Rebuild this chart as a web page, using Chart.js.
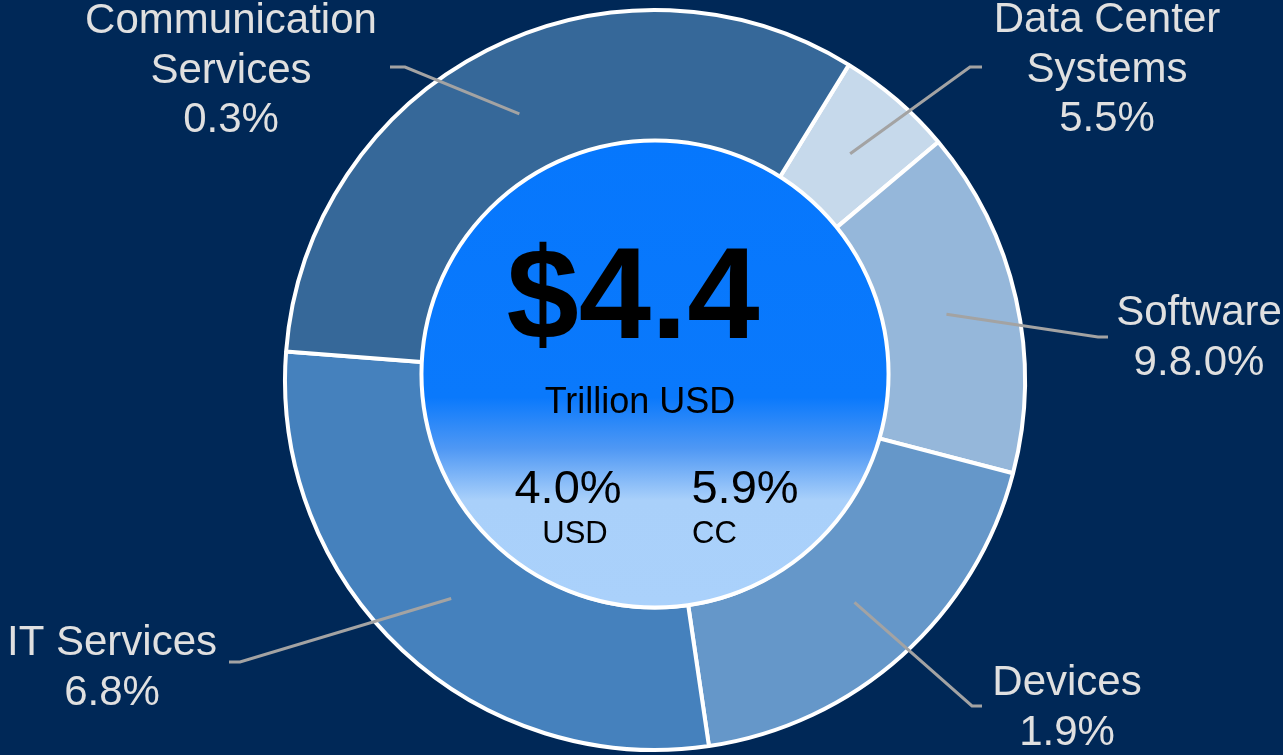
<!DOCTYPE html>
<html>
<head>
<meta charset="utf-8">
<script src="https://cdn.jsdelivr.net/npm/chart.js@4/dist/chart.umd.min.js"></script>
<style>
  html, body { margin: 0; padding: 0; background: #002857; }
  #wrap { width: 1283px; height: 755px; }
</style>
</head>
<body>
<div id="wrap"><canvas id="itChart" width="1283" height="755"></canvas></div>
<script>
// IT spending by segment (billion USD), clockwise from Data Center Systems
const categories = [['Data Center', 'Systems'], ['Software'], ['Devices'], ['IT Services'], ['Communication', 'Services']];
const spending = [227, 675, 828, 1270, 1448];
const growthLabels = ['5.5%', '9.8.0%', '1.9%', '6.8%', '0.3%'];
const totalLabel = '$4.4';
const totalUnit = 'Trillion USD';
const growthUsd = '4.0%';
const growthCc = '5.9%';

const sliceColors = ['#c6d9eb', '#95b7da', '#6597c9', '#4581bd', '#366899'];
const FONT = '"Liberation Sans", Arial, Helvetica, sans-serif';

// label placement, relative to the doughnut centre (px)
const labelLayout = [
  { elbow: [315, -313], end: [327, -313], text: [452, -348] },
  { elbow: [443, -43], end: [453, -43], text: [544, -55] },
  { elbow: [317, 326], end: [327, 326], text: [412, 315] },
  { elbow: [-415, 282], end: [-426, 282], text: [-543, 275] },
  { elbow: [-250, -313], end: [-265, -313], text: [-424, -347] }
];

// blue disc in the hole + the headline numbers
const centerPlugin = {
  id: 'centerDisc',
  afterDatasetsDraw(chart) {
    const arc = chart.getDatasetMeta(0).data[0];
    const { x: cx, y: cy, innerRadius } = arc.getProps(['x', 'y', 'innerRadius'], true);
    const ctx = chart.ctx;
    const r = innerRadius + 6;
    const dy = cy - 6;

    ctx.save();
    const g = ctx.createLinearGradient(0, dy - r, 0, dy + r);
    g.addColorStop(0, '#0677fd');
    g.addColorStop(0.55, '#0a79fc');
    g.addColorStop(0.66, '#4f98f4');
    g.addColorStop(0.77, '#a9d0fa');
    g.addColorStop(1, '#aad1fb');
    ctx.beginPath();
    ctx.arc(cx, dy, r, 0, Math.PI * 2);
    ctx.fillStyle = g;
    ctx.fill();
    ctx.lineWidth = 4;
    ctx.strokeStyle = '#ffffff';
    ctx.stroke();

    ctx.fillStyle = '#000000';
    ctx.textBaseline = 'alphabetic';
    ctx.textAlign = 'center';
    ctx.font = 'bold 130px ' + FONT;
    ctx.fillText(totalLabel, cx - 22, cy - 42);
    ctx.font = '36px ' + FONT;
    ctx.fillText(totalUnit, cx - 15, cy + 33);
    ctx.font = '47px ' + FONT;
    ctx.fillText(growthUsd, cx - 87, cy + 123);
    ctx.fillText(growthCc, cx + 90, cy + 123);
    ctx.font = '31px ' + FONT;
    ctx.fillText('USD', cx - 80, cy + 163);
    ctx.textAlign = 'left';
    ctx.fillText('CC', cx + 37, cy + 163);
    ctx.restore();
  }
};

// leader lines and outside labels
const labelPlugin = {
  id: 'outsideLabels',
  afterDraw(chart) {
    const meta = chart.getDatasetMeta(0);
    const ctx = chart.ctx;
    const first = meta.data[0];
    const cx = first.x, cy = first.y;

    ctx.save();
    meta.data.forEach((arc, i) => {
      const p = arc.getCenterPoint();
      const lay = labelLayout[i];
      ctx.beginPath();
      ctx.moveTo(p.x, p.y);
      ctx.lineTo(cx + lay.elbow[0], cy + lay.elbow[1]);
      ctx.lineTo(cx + lay.end[0], cy + lay.end[1]);
      ctx.strokeStyle = '#a3a3a3';
      ctx.lineWidth = 3;
      ctx.stroke();

      const lines = categories[i].concat([growthLabels[i]]);
      ctx.fillStyle = '#e0e0e0';
      ctx.font = '42px ' + FONT;
      ctx.textAlign = 'center';
      ctx.textBaseline = 'alphabetic';
      lines.forEach((t, k) => {
        ctx.fillText(t, cx + lay.text[0], cy + lay.text[1] + k * 49.5);
      });
    });
    ctx.restore();
  }
};

new Chart(document.getElementById('itChart'), {
  type: 'doughnut',
  data: {
    labels: categories.map(c => c.join(' ')),
    datasets: [{
      data: spending,
      backgroundColor: sliceColors,
      borderColor: '#ffffff',
      borderWidth: 4
    }]
  },
  options: {
    responsive: false,
    animation: false,
    rotation: 31.6,
    cutout: '61.5%',
    layout: { padding: { top: 8, bottom: 3, left: 27, right: 0 } },
    plugins: {
      legend: { display: false },
      tooltip: { enabled: false }
    }
  },
  plugins: [centerPlugin, labelPlugin]
});
</script>
</body>
</html>
